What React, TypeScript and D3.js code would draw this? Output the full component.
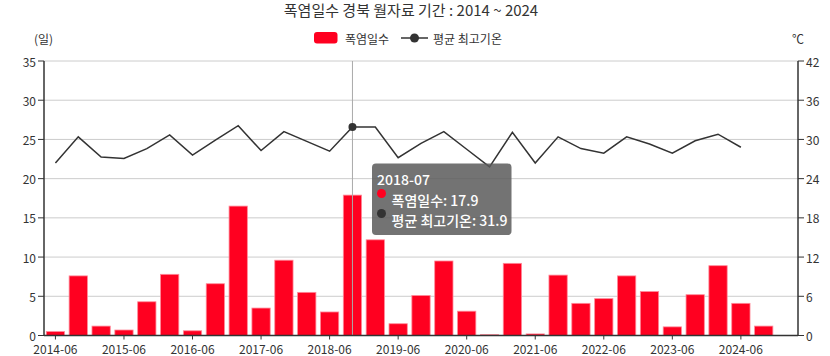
import React from "react";
import * as d3 from "d3";

const years = [2014, 2015, 2016, 2017, 2018, 2019, 2020, 2021, 2022, 2023, 2024];
const months = ["06", "07", "08"];
const categories = years.flatMap((y) => months.map((m) => `${y}-${m}`));

const heatDays: (number | null)[] = [
  0.5, 7.6, 1.2,
  0.7, 4.3, 7.8,
  0.6, 6.6, 16.5,
  3.5, 9.6, 5.5,
  3.0, 17.9, 12.2,
  1.5, 5.1, 9.5,
  3.1, 0.1, 9.2,
  0.2, 7.7, 4.1,
  4.7, 7.6, 5.6,
  1.1, 5.2, 8.9,
  4.1, 1.2, null,
];

const maxTemp: (number | null)[] = [
  26.4, 30.4, 27.3,
  27.1, 28.6, 30.7,
  27.6, 29.9, 32.1,
  28.3, 31.2, 29.7,
  28.2, 31.9, 31.9,
  27.2, 29.4, 31.2,
  28.5, 25.8, 31.1,
  26.4, 30.4, 28.6,
  27.9, 30.4, 29.3,
  27.9, 29.8, 30.8,
  28.8, null, null,
];

const leftTicks = [0, 5, 10, 15, 20, 25, 30, 35];
const rightTicks = [0, 6, 12, 18, 24, 30, 36, 42];

const title = "폭염일수 경북 월자료 기간 : 2014 ~ 2024";
const barName = "폭염일수";
const lineName = "평균 최고기온";
const hoverIndex = 13;

const W = 830;
const H = 356;
const M = { left: 44, right: 32, top: 61, bottom: 20.5 };
const FONT = "'Noto Sans CJK KR', 'Noto Sans', sans-serif";
const RED = "#ff0020";

export default function App() {
  const x = d3
    .scaleBand<string>()
    .domain(categories)
    .range([M.left, W - M.right])
    .paddingInner(0.2)
    .paddingOuter(0.1);
  const cx = (c: string) => (x(c) as number) + x.bandwidth() / 2;
  const yL = d3.scaleLinear().domain([0, 35]).range([H - M.bottom, M.top]);
  const yR = d3.scaleLinear().domain([0, 42]).range([H - M.bottom, M.top]);

  const line = d3
    .line<number | null>()
    .defined((d) => d != null)
    .x((_, i) => cx(categories[i]))
    .y((d) => yR(d as number));

  const x0 = M.left;
  const x1 = W - M.right;
  const yb = H - M.bottom;
  const hc = categories[hoverIndex];
  const hx = cx(hc);

  return (
    <svg width={W} height={H} style={{ position: "absolute", left: 0, top: 0 }} fontFamily={FONT}>
      <rect width={W} height={H} fill="#fff" />
      <text x={411} y={9} textAnchor="middle" dominantBaseline="central" fontSize={15} fill="#333">
        {title}
      </text>
      {/* legend */}
      <rect x={314} y={32} width={23.5} height={11.5} rx={3} fill={RED} />
      <text x={345} y={38} dominantBaseline="central" fontSize={12} fill="#333">{barName}</text>
      <line x1={401} x2={428} y1={38} y2={38} stroke="#333" strokeWidth={1.5} />
      <circle cx={414.5} cy={38} r={4.5} fill="#333" />
      <text x={433} y={38} dominantBaseline="central" fontSize={12} fill="#333">{lineName}</text>
      <text x={43.5} y={38} textAnchor="middle" dominantBaseline="central" fontSize={12} fill="#333">(일)</text>
      <text x={798} y={38} textAnchor="middle" dominantBaseline="central" fontSize={12} fill="#333">℃</text>

      {/* grid */}
      {leftTicks.map((t) => (
        <line key={t} x1={x0} x2={x1} y1={yL(t)} y2={yL(t)} stroke="#cccccc" strokeWidth={1} />
      ))}
      {/* left axis */}
      <line x1={x0} x2={x0} y1={M.top} y2={yb} stroke="#333" strokeWidth={1.5} />
      {leftTicks.map((t) => (
        <g key={t}>
          <line x1={x0 - 6} x2={x0} y1={yL(t)} y2={yL(t)} stroke="#333" />
          <text x={x0 - 8} y={yL(t)} textAnchor="end" dominantBaseline="central" fontSize={12} fill="#333">{t}</text>
        </g>
      ))}
      {/* right axis */}
      <line x1={x1} x2={x1} y1={M.top} y2={yb} stroke="#333" strokeWidth={1.5} />
      {rightTicks.map((t) => (
        <g key={t}>
          <line x1={x1} x2={x1 + 6} y1={yR(t)} y2={yR(t)} stroke="#333" />
          <text x={x1 + 8} y={yR(t)} dominantBaseline="central" fontSize={12} fill="#333">{t}</text>
        </g>
      ))}
      {/* bars */}
      {heatDays.map((v, i) =>
        v == null ? null : (
          <rect
            key={i}
            x={x(categories[i])}
            y={yL(v)}
            width={x.bandwidth()}
            height={yb - yL(v)}
            fill={RED}
            stroke="#ff8a99"
            strokeWidth={0.8}
          />
        )
      )}
      {/* crosshair */}
      <line x1={hx} x2={hx} y1={M.top} y2={yb} stroke="#aaaaaa" strokeWidth={1} />
      {/* temperature line */}
      <path d={line(maxTemp) || ""} fill="none" stroke="#333" strokeWidth={1.5} />
      <circle cx={hx} cy={yR(maxTemp[hoverIndex] as number)} r={4} fill="#333" />
      {/* bottom axis */}
      <line x1={x0} x2={x1} y1={yb} y2={yb} stroke="#333" strokeWidth={1.5} />
      {categories.map((c, i) =>
        i % 3 === 0 ? (
          <g key={c}>
            <line x1={cx(c)} x2={cx(c)} y1={yb} y2={yb + 4} stroke="#333" />
            <text x={cx(c)} y={yb + 13} textAnchor="middle" dominantBaseline="central" fontSize={12} fill="#333">{c}</text>
          </g>
        ) : null
      )}
      {/* tooltip */}
      <g>
        <rect x={372} y={163.5} width={139.5} height={71.5} rx={4} fill="rgba(90,90,90,0.85)" />
        <text x={377} y={178.5} dominantBaseline="central" fontSize={14} fontWeight={500} fill="#fff">{hc}</text>
        <circle cx={381.5} cy={193.5} r={4.5} fill={RED} />
        <text x={391.5} y={200} dominantBaseline="central" fontSize={14} fontWeight={500} fill="#fff">{`${barName}: ${heatDays[hoverIndex]}`}</text>
        <circle cx={381.5} cy={213.5} r={4.5} fill="#333" />
        <text x={391.5} y={220} dominantBaseline="central" fontSize={14} fontWeight={500} fill="#fff">{`${lineName}: ${maxTemp[hoverIndex]}`}</text>
      </g>
    </svg>
  );
}
